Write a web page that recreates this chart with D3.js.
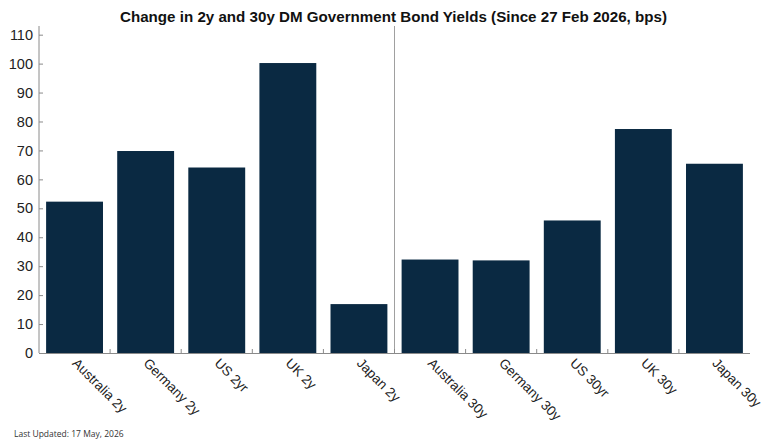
<!DOCTYPE html>
<html><head><meta charset="utf-8">
<script src="https://cdn.jsdelivr.net/npm/d3@7"></script>
<style>body{margin:0;background:#fff}svg{display:block}</style>
</head><body>
<svg id="c" width="770" height="442"></svg>
<script>
const categories = ["Australia 2y","Germany 2y","US 2yr","UK 2y","Japan 2y","Australia 30y","Germany 30y","US 30yr","UK 30y","Japan 30y"];
const values = [52.3, 69.8, 64.1, 100.2, 16.9, 32.3, 32.0, 45.8, 77.4, 65.4];
const yTicks = [0,10,20,30,40,50,60,70,80,90,100,110];
const dividerAfter = "Japan 2y";
const title = "Change in 2y and 30y DM Government Bond Yields (Since 27 Feb 2026, bps)";
const footer = "Last Updated: 17 May, 2026";

(function(){
const svg = d3.select("#c");
const mLeft = 39, mRight = 750, mBottom = 353, mTop = 26;
const x = d3.scaleBand().domain(categories).range([mLeft, mRight]).paddingInner(0.2).paddingOuter(0.1);
const y = d3.scaleLinear().domain([0, 113]).range([mBottom, mTop]);
const axisColor = "#8a8a8a";

svg.append("text").attr("x", 120).attr("y", 22).attr("text-anchor", "start")
  .attr("font-family", "Liberation Sans, Arial, sans-serif").attr("font-weight", "bold")
  .attr("font-size", 15.5).attr("textLength", 547).attr("lengthAdjust", "spacingAndGlyphs")
  .attr("fill", "#111").text(title);

// bars
svg.append("g").selectAll("rect").data(categories).join("rect")
  .attr("x", d => x(d)).attr("width", x.bandwidth())
  .attr("y", (d,i) => y(values[i])).attr("height", (d,i) => y(0) - y(values[i]))
  .attr("fill", "#0a2942");

// divider
const step = x.step();
const divX = x(dividerAfter) + x.bandwidth() + step * 0.1;
svg.append("line").attr("x1", divX).attr("x2", divX).attr("y1", mTop).attr("y2", mBottom)
  .attr("stroke", "#a0a0a0").attr("stroke-width", 1);

// y axis
const yAxis = d3.axisLeft(y).tickValues(yTicks).tickSize(-4).tickPadding(6);
const gy = svg.append("g").attr("transform", `translate(${mLeft},0)`).call(yAxis);
gy.select(".domain").attr("stroke", axisColor).attr("d", `M0,${mBottom}V${mTop}`);
gy.selectAll(".tick line").attr("stroke", axisColor);
gy.selectAll(".tick text").attr("font-family", "Liberation Sans, Arial, sans-serif")
  .attr("font-size", 14.5).attr("fill", "#222");

// x axis line
svg.append("line").attr("x1", mLeft).attr("x2", mRight).attr("y1", mBottom + 0.5).attr("y2", mBottom + 0.5)
  .attr("stroke", axisColor).attr("stroke-width", 1);
// boundary ticks
const bounds = categories.slice(1).map(c => x(c) - step * 0.1);
svg.append("g").selectAll("line").data(bounds).join("line")
  .attr("x1", d => d).attr("x2", d => d).attr("y1", mBottom).attr("y2", mBottom - 4)
  .attr("stroke", axisColor);

// x labels
svg.append("g").selectAll("text").data(categories).join("text")
  .attr("transform", d => `translate(${x(d) + x.bandwidth()/2 - 3},${mBottom + 11}) rotate(45)`)
  .attr("text-anchor", "start")
  .attr("font-family", "Liberation Sans, Arial, sans-serif").attr("font-size", 13.5)
  .attr("fill", "#222").text(d => d);

svg.append("text").attr("x", 14).attr("y", 437)
  .attr("font-family", "Open Sans, sans-serif").attr("font-size", 8.5)
  .attr("fill", "#333").text(footer);
})();
</script>
</body></html>
